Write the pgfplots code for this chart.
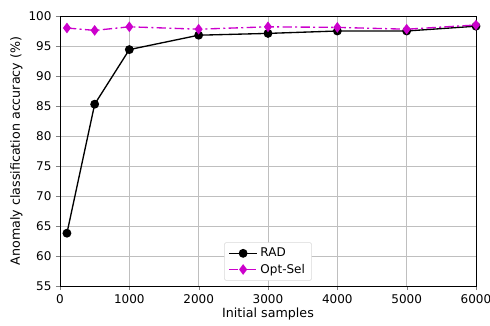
\documentclass[border=0pt]{standalone}
\usepackage{fontspec}
\setmainfont{DejaVu Sans}
\usepackage{pgfplots}
\pgfplotsset{compat=1.18}
\begin{document}
\fontsize{9.5pt}{11pt}\selectfont
\begin{tikzpicture}
\begin{axis}[
  name=ax,
  scale only axis, width=312pt, height=202.5pt,
  xmin=0, xmax=6000, ymin=55, ymax=100,
  xtick={0,1000,...,6000}, ytick={55,60,...,100},
  scaled x ticks=false,
  /pgf/number format/assume math mode=true,
  xticklabel style={/pgf/number format/1000 sep={}},
  tick align=outside, tick pos=left,
  major tick length=3pt,
  grid=major, grid style={gray!50, line width=0.5pt},
  xlabel={Initial samples}, ylabel={Anomaly classification accuracy (\%)},
  label style={font=\fontsize{9.5pt}{11pt}\selectfont},
  ticklabel style={font=\fontsize{9pt}{11pt}\selectfont},
  xlabel style={yshift=3pt}, ylabel style={yshift=-2pt},
  legend style={at={(0.5,0.02)}, anchor=south, font=\fontsize{9pt}{11pt}\selectfont, draw=gray!30, rounded corners=1pt, cells={anchor=west}},
  legend cell align=left,
  legend image code/.code={\draw[mark repeat=2,mark phase=2] plot coordinates {(0cm,0cm)(0.37cm,0cm)(0.74cm,0cm)};},
]
\addplot[black, line width=1pt, mark=*, mark size=2.8pt] coordinates {
(100,63.8) (500,85.3) (1000,94.4) (2000,96.8) (3000,97.1) (4000,97.5) (5000,97.5) (6000,98.3)};
\addlegendentry{RAD}
\addplot[color={rgb,255:red,204;green,0;blue,204}, line width=1pt, dash pattern=on 7pt off 2.5pt on 1.5pt off 2.5pt, mark=diamond*, mark size=3.2pt, mark options={solid}] coordinates {
(100,98.0) (500,97.6) (1000,98.2) (2000,97.8) (3000,98.2) (4000,98.1) (5000,97.8) (6000,98.5)};
\addlegendentry{Opt-Sel}
\end{axis}
\pgfresetboundingbox
\path (ax.south west) ++(-45pt,-29.25pt) coordinate (bl);
\path (ax.north east) ++(10.5pt,12pt) coordinate (tr);
\path[use as bounding box] (bl) rectangle (tr);
\end{tikzpicture}
\end{document}
